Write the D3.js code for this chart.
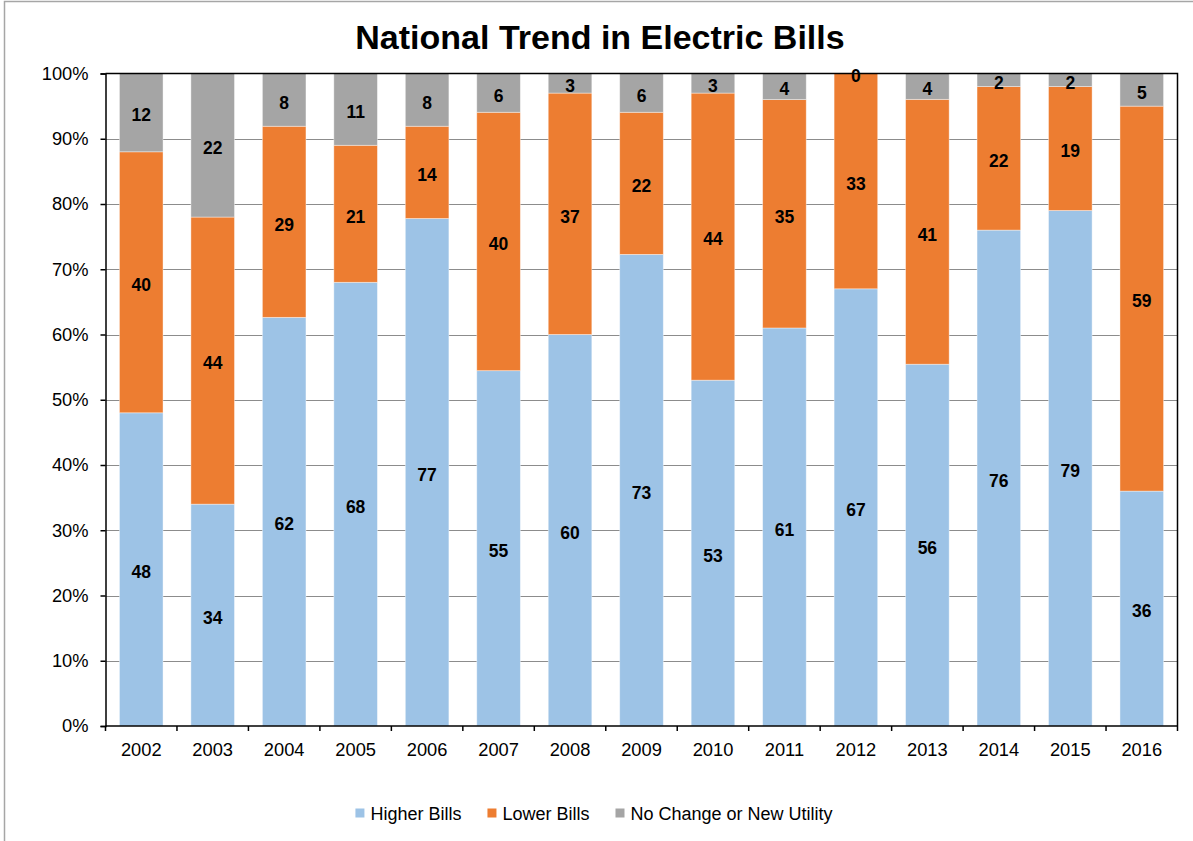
<!DOCTYPE html>
<html>
<head>
<meta charset="utf-8">
<script src="https://cdn.jsdelivr.net/npm/d3@7"></script>
<style>
  body { margin: 0; background: #fff; }
  svg { display: block; font-family: "Liberation Sans", Arial, sans-serif; }
</style>
</head>
<body>
<div id="chart"></div>
<script>
const years = ["2002", "2003", "2004", "2005", "2006", "2007", "2008", "2009", "2010", "2011", "2012", "2013", "2014", "2015", "2016"];
const higherBills = [48, 34, 62, 68, 77, 55, 60, 73, 53, 61, 67, 56, 76, 79, 36];
const lowerBills = [40, 44, 29, 21, 14, 40, 37, 22, 44, 35, 33, 41, 22, 19, 59];
const noChange = [12, 22, 8, 11, 8, 6, 3, 6, 3, 4, 0, 4, 2, 2, 5];
const seriesNames = ["Higher Bills", "Lower Bills", "No Change or New Utility"];
const yTicks = [0, 0.1, 0.2, 0.3, 0.4, 0.5, 0.6, 0.7, 0.8, 0.9, 1];

const width = 1193;
const height = 841;
const plotLeft = 105.5, plotRight = 1177.5, plotTop = 73.5, plotBottom = 726;

const colors = d3.scaleOrdinal()
    .domain(seriesNames)
    .range(["#9dc3e6", "#ed7d31", "#a5a5a5"]);

const table = years.map((yr, i) => ({
    year: yr,
    "Higher Bills": higherBills[i],
    "Lower Bills": lowerBills[i],
    "No Change or New Utility": noChange[i]
}));

const stacked = d3.stack()
    .keys(seriesNames)
    .offset(d3.stackOffsetExpand)(table);

const svg = d3.select("#chart").append("svg")
    .attr("width", width)
    .attr("height", height);

// outer chart border
svg.append("rect")
    .attr("x", 4.5).attr("y", 1.5)
    .attr("width", width + 20).attr("height", height + 20)
    .attr("fill", "none")
    .attr("stroke", "#a6a6a6")
    .attr("stroke-width", 1.5);

svg.append("text")
    .attr("x", 600).attr("y", 49)
    .attr("text-anchor", "middle")
    .attr("font-size", 34)
    .attr("font-weight", "bold")
    .text("National Trend in Electric Bills");

const x = d3.scaleBand()
    .domain(years)
    .range([plotLeft, plotRight])
    .paddingInner(0.39)
    .paddingOuter(0.195);

const y = d3.scaleLinear()
    .domain([0, 1])
    .range([plotBottom, plotTop]);

// gridlines
svg.append("g")
    .selectAll("line")
    .data(yTicks.slice(1, -1))
    .join("line")
    .attr("x1", plotLeft).attr("x2", plotRight)
    .attr("y1", d => Math.round(y(d)) + 0.5)
    .attr("y2", d => Math.round(y(d)) + 0.5)
    .attr("stroke", "#8c8c8c")
    .attr("stroke-width", 1.2);

// bars
const layers = svg.append("g")
    .selectAll("g")
    .data(stacked)
    .join("g")
    .attr("fill", d => colors(d.key));

layers.selectAll("rect")
    .data(d => d)
    .join("rect")
    .attr("x", d => x(d.data.year))
    .attr("width", x.bandwidth())
    .attr("y", d => y(d[1]))
    .attr("height", d => y(d[0]) - y(d[1]))
    .attr("stroke", "#ffffff")
    .attr("stroke-opacity", 0.5)
    .attr("stroke-width", 0.8);

// value labels
const labels = svg.append("g");
stacked.forEach(layer => {
    labels.selectAll(null)
        .data(layer)
        .join("text")
        .attr("x", d => x(d.data.year) + x.bandwidth() / 2)
        .attr("y", d => (y(d[0]) + y(d[1])) / 2)
        .attr("dy", "0.5em")
        .attr("text-anchor", "middle")
        .attr("font-size", 17.5)
        .attr("font-weight", "bold")
        .attr("fill", "#000")
        .text(d => d.data[layer.key]);
});

// plot frame: top and right
svg.append("path")
    .attr("d", `M${plotLeft},${plotTop}H${plotRight}V${plotBottom}`)
    .attr("fill", "none")
    .attr("stroke", "#000")
    .attr("stroke-width", 1.5);

// y axis
const yAxis = svg.append("g")
    .attr("transform", `translate(${plotLeft},0)`)
    .call(d3.axisLeft(y)
        .tickValues(yTicks)
        .tickFormat(d3.format(".0%"))
        .tickSize(5)
        .tickPadding(12));
yAxis.selectAll("path, line").attr("stroke", "#000").attr("stroke-width", 1.5);
yAxis.selectAll("text")
    .attr("font-size", 18.3)
    .attr("font-family", "Liberation Sans, Arial, sans-serif")
    .attr("fill", "#000");

// x axis
const xAxis = svg.append("g")
    .attr("transform", `translate(0,${plotBottom})`);
xAxis.append("line")
    .attr("x1", plotLeft).attr("x2", plotRight)
    .attr("stroke", "#000").attr("stroke-width", 1.5);
xAxis.selectAll(".edge")
    .data(d3.range(years.length + 1))
    .join("line")
    .attr("class", "edge")
    .attr("x1", i => plotLeft + i * x.step())
    .attr("x2", i => plotLeft + i * x.step())
    .attr("y1", 0).attr("y2", 5)
    .attr("stroke", "#000").attr("stroke-width", 1.5);
xAxis.selectAll(".lbl")
    .data(years)
    .join("text")
    .attr("class", "lbl")
    .attr("x", d => x(d) + x.bandwidth() / 2)
    .attr("y", 30)
    .attr("text-anchor", "middle")
    .attr("font-size", 18.3)
    .text(d => d);

// legend
const legend = svg.append("g");
let lx = 0;
seriesNames.forEach(name => {
    const g = legend.append("g");
    g.append("rect")
        .attr("y", -4.5)
        .attr("width", 9).attr("height", 9)
        .attr("fill", colors(name));
    const t = g.append("text")
        .attr("x", 15)
        .attr("y", 6.5)
        .attr("font-size", 18)
        .text(name);
    const w = 15 + t.node().getComputedTextLength();
    g.attr("transform", `translate(${lx},0)`);
    lx += w + 26;
});
const legendWidth = lx - 26;
legend.attr("transform", `translate(${594 - legendWidth / 2},813)`);
</script>
</body>
</html>
